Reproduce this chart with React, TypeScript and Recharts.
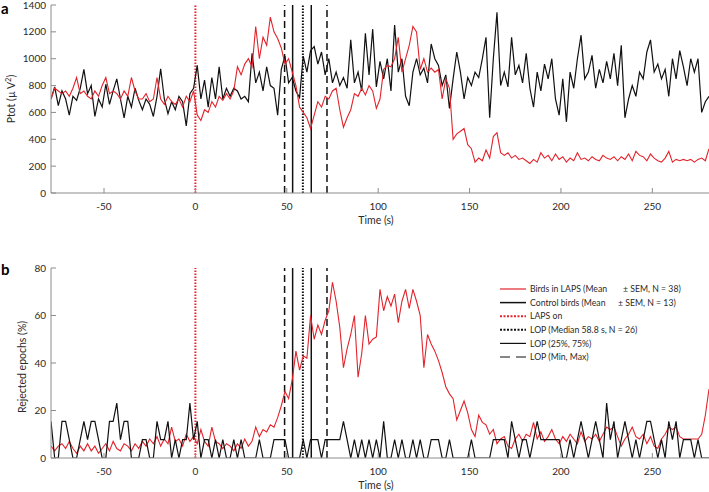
import React from 'react';
import { LineChart, Line, XAxis, YAxis, ReferenceLine } from 'recharts';

// Sampling grid: seconds relative to LAPS onset
const START = -79;
const STEP = 2;

// Panel a: Ptot (µV²)
const laps_ptot = [
  700, 780, 760, 740, 760, 720, 780, 860, 740, 760,
  720, 700, 760, 720, 800, 860, 740, 760, 740, 700,
  760, 720, 860, 760, 700, 700, 740, 680, 700, 860,
  700, 660, 720, 680, 660, 700, 640, 720, 680, 760,
  580, 540, 620, 600, 680, 640, 720, 690, 740, 700,
  760, 940, 880, 960, 1000, 940, 1240, 1000, 1160, 1100,
  1310, 1200, 1150, 1080, 960, 1000, 900, 800, 640, 600,
  560, 480, 580, 680, 640, 720, 700, 760, 780, 620,
  490, 560, 620, 740, 720, 780, 730, 800, 760, 630,
  700, 920, 950, 940, 1000, 1160, 900, 1000, 1100, 1240,
  1200, 920, 1000, 900, 930, 900, 920, 700, 850, 780,
  400, 440, 460, 480, 360, 330, 230, 260, 240, 320,
  260, 420, 450, 300, 280, 300, 260, 280, 250, 260,
  240, 220, 250, 230, 300, 260, 280, 240, 290, 250,
  270, 230, 260, 240, 300, 250, 260, 240, 270, 250,
  240, 280, 260, 250, 270, 240, 270, 250, 290, 240,
  310, 280, 270, 240, 290, 260, 240, 230, 260, 310,
  230, 250, 240, 250, 240, 250, 230, 250, 260, 240, 330,
];

const control_ptot = [
  700, 790, 650, 760, 700, 580, 720, 690, 780, 920,
  740, 800, 570, 700, 640, 810, 660, 760, 850, 700,
  560, 720, 640, 780, 690, 620, 700, 660, 570, 720,
  925, 700, 590, 680, 620, 720, 680, 500, 740, 780,
  950, 700, 840, 640, 860, 700, 940, 700, 780, 720,
  780, 760, 700, 720, 680, 1040, 820, 900, 760, 940,
  800, 780, 580, 920, 1020, 820, 860, 760, 710, 1020,
  900, 1060, 1090, 960, 1050, 880, 1000, 820, 900, 800,
  860, 780, 1140, 820, 900, 760, 1190, 880, 1220, 790,
  980, 850, 1000, 760, 1250, 900, 1000, 720, 650, 900,
  1000, 880, 930, 820, 1110, 1000, 950, 800, 880, 630,
  850, 1050, 900, 700, 860, 800, 900, 860, 1000, 1160,
  560, 1000, 1345, 800, 900, 790, 1160, 880, 950, 820,
  1040, 780, 640, 900, 760, 960, 850, 1000, 700, 580,
  850, 530, 900, 780, 1000, 1175, 850, 900, 1025, 780,
  920, 820, 980, 850, 1040, 800, 1100, 560, 700, 800,
  720, 900, 850, 1050, 1140, 900, 960, 850, 920, 720,
  1000, 850, 1060, 940, 800, 1000, 900, 1000, 600, 680, 720,
];

// Panel b: rejected epochs (%)
const laps_rejected = [
  5, 3, 5, 6, 4, 7, 4, 2, 5, 3,
  6, 3, 5, 2, 4, 6, 3, 7, 4, 3,
  6, 5, 3, 6, 4, 7, 5, 8, 6, 9,
  5, 8, 6, 13, 7, 8, 5, 10, 7, 9,
  6, 12, 7, 5, 13, 7, 6, 4, 6, 5,
  3, 6, 4, 8, 5, 7, 13, 9, 12, 11,
  14, 13, 17, 22, 28, 25, 33, 45, 37, 43,
  42, 60, 50, 56, 52, 58, 62, 74, 66, 55,
  38, 46, 52, 60, 34, 44, 60, 48, 50, 51,
  71, 62, 68, 64, 69, 57, 66, 71, 63, 71,
  66, 60, 38, 52, 48, 45, 41, 36, 30, 27,
  25, 16, 20, 24, 19, 12, 9, 18, 15, 14,
  10, 12, 6, 8, 9, 5, 4, 8, 10, 7,
  10, 9, 15, 8, 11, 7, 9, 12, 8, 6,
  9, 7, 10, 8, 6, 11, 7, 9, 8, 10,
  7, 10, 13, 12, 13, 9, 5, 8, 10, 13,
  9, 8, 10, 6, 9, 5, 4, 8, 10, 13,
  12, 13, 9, 8, 8, 8, 8, 8, 10, 18, 29,
];

const control_rejected = [
  15.4, 0, 0, 15.4, 15.4, 7.7, 0, 0, 7.7, 15.4,
  7.7, 15.4, 15.4, 7.7, 0, 0, 15.4, 15.4, 23.1, 7.7,
  15.4, 15.4, 0, 0, 0, 7.7, 7.7, 0, 0, 15.4,
  7.7, 7.7, 15.4, 0, 7.7, 0, 7.7, 7.7, 23.1, 7.7,
  15.4, 0, 7.7, 7.7, 0, 7.7, 0, 7.7, 0, 0,
  7.7, 0, 7.7, 0, 0, 0, 0, 7.7, 0, 0,
  0, 7.7, 7.7, 7.7, 7.7, 0, 0, 0, 0, 7.7,
  0, 7.7, 7.7, 7.7, 0, 7.7, 7.7, 7.7, 7.7, 7.7,
  15.4, 7.7, 0, 7.7, 0, 7.7, 0, 7.7, 0, 7.7,
  0, 15.4, 0, 0, 7.7, 0, 7.7, 0, 0, 7.7,
  0, 7.7, 0, 0, 7.7, 7.7, 7.7, 0, 0, 7.7,
  0, 0, 0, 0, 0, 7.7, 0, 0, 0, 0,
  0, 7.7, 7.7, 7.7, 7.7, 0, 15.4, 7.7, 0, 7.7,
  7.7, 0, 7.7, 15.4, 7.7, 7.7, 7.7, 7.7, 7.7, 7.7,
  0, 0, 7.7, 0, 7.7, 15.4, 7.7, 0, 7.7, 15.4,
  7.7, 0, 23.1, 7.7, 15.4, 0, 7.7, 15.4, 7.7, 0,
  7.7, 0, 7.7, 15.4, 15.4, 7.7, 0, 7.7, 0, 15.4,
  7.7, 15.4, 0, 7.7, 7.7, 7.7, 0, 7.7, 0, 0, 0,
];

const X_TICKS = [-50, 0, 50, 100, 150, 200, 250];
const YA_TICKS = [0, 200, 400, 600, 800, 1000, 1200, 1400];
const YB_TICKS = [0, 20, 40, 60, 80];

// Event markers (s)
const LAPS_ON = 0;
const LOP_MEDIAN = 58.8;
const LOP_QUARTILES = [53.2, 63.4];
const LOP_RANGE = [48.8, 72];

const LEGEND_LABELS = [
  ['Birds in LAPS (Mean', '± SEM, N = 38)'],
  ['Control birds (Mean', '± SEM, N = 13)'],
  ['LAPS on', ''],
  ['LOP (Median 58.8 s, N = 26)', ''],
  ['LOP (25%, 75%)', ''],
  ['LOP (Min, Max)', ''],
];

const TIME = laps_ptot.map((_, i) => START + i * STEP);
const dataA = TIME.map((t, i) => ({ t, red: laps_ptot[i], black: control_ptot[i] }));
const dataB = TIME.map((t, i) => ({ t, red: laps_rejected[i], black: control_rejected[i] }));

const RED = '#e3232b';
const BLK = '#111111';
const AXIS = '#8c8c8c';
const FONT = 'Lato, "Open Sans", sans-serif';
const TXT = '#2a2a2a';

const XTick = (props: any) => {
  const { x, y, payload } = props;
  return (
    <g>
      <line x1={x} x2={x} y1={y} y2={y - 5} stroke={AXIS} strokeWidth={1} />
      <text x={x} y={y + 17} textAnchor="middle" fontSize={10} fontFamily={FONT} fill={TXT}>
        {payload.value}
      </text>
    </g>
  );
};

const YTick = (props: any) => {
  const { x, y, payload } = props;
  return (
    <g>
      <line x1={x} x2={x + 5} y1={y} y2={y} stroke={AXIS} strokeWidth={1} />
      <text x={x - 5} y={y + 3.5} textAnchor="end" fontSize={10} fontFamily={FONT} fill={TXT}>
        {payload.value}
      </text>
    </g>
  );
};

const markers = () => [
  <ReferenceLine key="laps" x={LAPS_ON} stroke={RED} strokeWidth={2} strokeDasharray="1.5 1.5" />,
  <ReferenceLine key="min" x={LOP_RANGE[0]} stroke={BLK} strokeWidth={1.5} strokeDasharray="7 4" />,
  <ReferenceLine key="max" x={LOP_RANGE[1]} stroke={BLK} strokeWidth={1.5} strokeDasharray="7 4" />,
  <ReferenceLine key="q1" x={LOP_QUARTILES[0]} stroke={BLK} strokeWidth={1.5} />,
  <ReferenceLine key="q3" x={LOP_QUARTILES[1]} stroke={BLK} strokeWidth={1.5} />,
  <ReferenceLine key="med" x={LOP_MEDIAN} stroke={BLK} strokeWidth={2} strokeDasharray="1.5 1.5" />,
];

const legendStyles = [
  { stroke: RED, dash: undefined, w: 1.2 },
  { stroke: BLK, dash: undefined, w: 1.5 },
  { stroke: RED, dash: '2 1.5', w: 2 },
  { stroke: BLK, dash: '2 1.5', w: 2 },
  { stroke: BLK, dash: undefined, w: 1.2 },
  { stroke: BLK, dash: '10 6', w: 1.2 },
];
const SECOND_X = [623, 618];

export default function App() {
  return (
    <div style={{ position: 'absolute', left: 0, top: 0, width: 709, height: 492, background: '#fff' }}>
      <div style={{ position: 'absolute', left: 0, top: 0 }}>
        <LineChart width={709} height={245} data={dataA} margin={{ top: 5, right: 0, left: 0, bottom: 12 }}>
          <XAxis dataKey="t" type="number" domain={[-79, 281]} ticks={X_TICKS} interval={0}
            allowDataOverflow tickLine={false} tickSize={0} tickMargin={0} height={40}
            axisLine={{ stroke: AXIS }} tick={<XTick />} />
          <YAxis type="number" domain={[0, 1400]} ticks={YA_TICKS} interval={0} width={51}
            allowDataOverflow tickLine={false} tickSize={0} tickMargin={0}
            axisLine={{ stroke: AXIS }} tick={<YTick />} />
          {markers()}
          <Line dataKey="black" type="linear" stroke={BLK} strokeWidth={1.2} dot={false} isAnimationActive={false} />
          <Line dataKey="red" type="linear" stroke={RED} strokeWidth={1.1} dot={false} isAnimationActive={false} />
        </LineChart>
      </div>
      <div style={{ position: 'absolute', left: 0, top: 245 }}>
        <LineChart width={709} height={247} data={dataB} margin={{ top: 23, right: 0, left: 0, bottom: 4 }}>
          <XAxis dataKey="t" type="number" domain={[-79, 281]} ticks={X_TICKS} interval={0}
            allowDataOverflow tickLine={false} tickSize={0} tickMargin={0} height={30}
            axisLine={{ stroke: AXIS }} tick={<XTick />} />
          <YAxis type="number" domain={[0, 80]} ticks={YB_TICKS} interval={0} width={51}
            allowDataOverflow tickLine={false} tickSize={0} tickMargin={0}
            axisLine={{ stroke: AXIS }} tick={<YTick />} />
          {markers()}
          <Line dataKey="red" type="linear" stroke={RED} strokeWidth={1.1} dot={false} isAnimationActive={false} />
          <Line dataKey="black" type="linear" stroke={BLK} strokeWidth={1.2} dot={false} isAnimationActive={false} />
        </LineChart>
      </div>
      <svg width={709} height={492} style={{ position: 'absolute', left: 0, top: 0, pointerEvents: 'none' }}>
        <text x={1} y={14} fontSize={15} fontWeight="bold" fontFamily={FONT} fill="#000">a</text>
        <text x={1} y={275} fontSize={15} fontWeight="bold" fontFamily={FONT} fill="#000">b</text>
        <text x={15} y={99} transform="rotate(-90 15 99)" textAnchor="middle" fontSize={10.5} fontFamily={FONT} fill={TXT}>
          Ptot (µ V<tspan dy={-4} fontSize={7.5}>2</tspan><tspan dy={4}>)</tspan>
        </text>
        <text x={26} y={367} transform="rotate(-90 26 367)" textAnchor="middle" fontSize={10.5} fontFamily={FONT} fill={TXT}>
          Rejected epochs (%)
        </text>
        <text x={376} y={224} textAnchor="middle" fontSize={10.5} fontFamily={FONT} fill={TXT}>Time (s)</text>
        <text x={376} y={489} textAnchor="middle" fontSize={10.5} fontFamily={FONT} fill={TXT}>Time (s)</text>
        {LEGEND_LABELS.map((lab, k) => {
          const y = 289 + k * 13.6;
          const s = legendStyles[k];
          return (
            <g key={k}>
              <line x1={500} x2={526} y1={y} y2={y} stroke={s.stroke} strokeWidth={s.w} strokeDasharray={s.dash} />
              <text x={530} y={y + 3.2} fontSize={8.7} fontFamily={FONT} fill={TXT}>{lab[0]}</text>
              {lab[1] ? (
                <text x={SECOND_X[k]} y={y + 3.2} fontSize={8.7} fontFamily={FONT} fill={TXT}>{lab[1]}</text>
              ) : null}
            </g>
          );
        })}
      </svg>
    </div>
  );
}
